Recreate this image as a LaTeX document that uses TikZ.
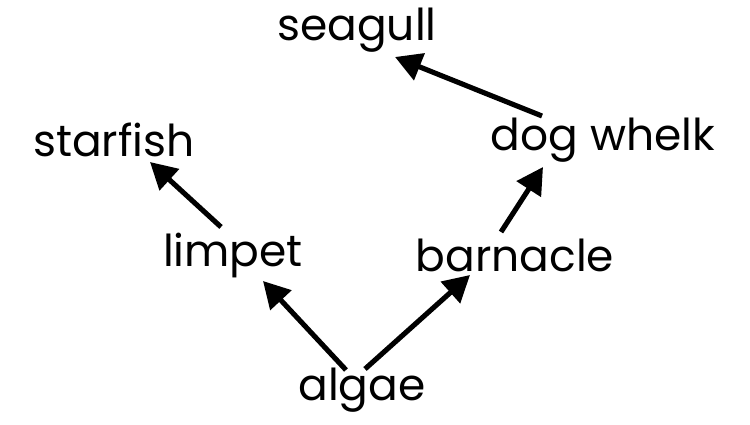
\documentclass[tikz,border=0pt]{standalone}
\usepackage{fontspec}
\setmainfont{Poppins}
\usetikzlibrary{arrows.meta}
\begin{document}
\begin{tikzpicture}[line width=2.9pt,>={Triangle[length=15pt,width=16pt]}]
\tikzset{
  org/.style={font=\fontsize{25}{30}\selectfont,inner sep=1pt},
  eats/.style={->}}
\useasboundingbox (0,0) rectangle (15,8.48);
% organisms
\node[org] (seagull)  at (7.14,7.88) {seagull};
\node[org] (starfish) at (2.28,5.68) {starfish};
\node[org] (dogwhelk) at (12.06,5.68) {dog whelk};
\node[org] (limpet)   at (4.66,3.38) {limpet};
\node[org] (barnacle) at (10.30,3.38) {barnacle};
\node[org] (algae)    at (7.24,0.68) {algae};
% energy flow (eaten -> eater)
\draw[eats] ([shift={(-0.32,0.40)}]algae.center) -- ([shift={(0.60,-0.52)}]limpet.center);
\draw[eats] ([shift={(0.06,0.42)}]algae.center) -- ([shift={(-0.90,-0.40)}]barnacle.center);
\draw[eats] ([shift={(-0.24,0.56)}]limpet.center) -- ([shift={(0.72,-0.44)}]starfish.center);
\draw[eats] ([shift={(-0.28,0.46)}]barnacle.center) -- ([shift={(-1.20,-0.54)}]dogwhelk.center);
\draw[eats] ([shift={(-1.22,0.48)}]dogwhelk.center) -- ([shift={(0.76,-0.54)}]seagull.center);
\end{tikzpicture}
\end{document}
